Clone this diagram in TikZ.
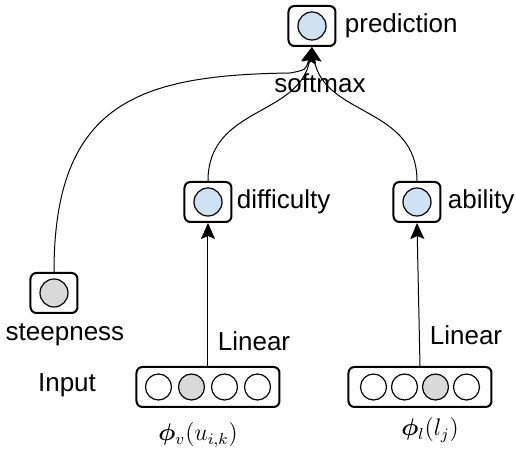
\documentclass[tikz,border=0pt]{standalone}
\usepackage{fontspec}
\setmainfont{Liberation Sans}
\usepackage{bm}
\usetikzlibrary{arrows.meta,positioning}
\definecolor{unitblue}{HTML}{CFE2F3}
\definecolor{unitgray}{HTML}{D9D9D9}
\tikzset{
	ubox/.style={
		draw,line width=1pt,rounded corners=3pt, %one unit
		minimum width=23.5pt,minimum height=20pt,inner sep=0pt},
	ibox/.style={draw,line width=1pt,rounded corners=3pt,minimum width=71.5pt,minimum height=20pt,inner sep=0pt},
	neur/.style={draw,circle,line width=0.6pt,minimum size=14pt,inner sep=0pt,fill=unitblue},
	lbl/.style={font=\fontsize{13}{15}\selectfont,inner sep=1pt},
	conn/.style={line width=0.5pt,-{Stealth[length=8pt,width=7pt,inset=1.5pt]}}
}
\newcommand{\embv}{$\bm{\phi}_v(u_{i,k})$}
\newcommand{\embl}{$\bm{\phi}_l(l_j)$}

\begin{document}
\begin{tikzpicture}[x=0.5pt,y=0.5pt]
			\useasboundingbox (0,0) rectangle (516,450);
			\node[ubox] (pred) at (312,424) {};
			\node[neur] at (pred) {};
			\node[lbl,right=3pt of pred] (predl) {prediction};
			\node[lbl] (soft) at (320,367) {softmax};
			\node[ubox] (diff) at (208,248) {};
			\node[neur] at (diff) {};
			\node[lbl,right=1pt of diff] (diffl) {difficulty};
			\node[ubox] (abil) at (417,248) {};
			\node[neur] at (abil) {};
			\node[lbl,right=2pt of abil] (abill) {ability};
			\node[ubox] (steep) at (54,157) {};
			\node[neur,fill=unitgray] at (steep) {};
			\node[lbl] (steepl) at (65,115) {steepness};
			\node[lbl] (inl) at (67,65) {Input};
			\node[ibox] (in1) at (208,63) {};
			\foreach \i/\c in {1/white,2/unitgray,3/white,4/white}
				\node[neur,minimum size=13pt,fill=\c] at ({125.5+33*\i},63) {};
			\node[ibox] (in2) at (420,63) {};
			\foreach \i/\c in {1/white,2/white,3/unitgray,4/white}
				\node[neur,minimum size=13pt,fill=\c] at ({342.5+31*\i},63) {};
			\node[font=\fontsize{12}{14}\selectfont] (emb1) at (198,15) {\embv};
			\node[font=\fontsize{12}{14}\selectfont] (emb2) at (430,20) {\embl};
			\node[lbl] (lin1) at (254,109) {Linear};
			\node[lbl] (lin2) at (466,115) {Linear};
			% connectors
			\draw[conn] (in1.north) -- (diff.south);
			\draw[conn] (in2.north) -- (abil.south);
			\draw[conn] (diff.north) .. controls +(0,75) and +(-12,-70) .. (pred.south);
			\draw[conn] (abil.north) .. controls +(0,75) and +(12,-70) .. (pred.south);
			\draw[conn] (steep.north) .. controls +(0,170) and (140,375) .. (290,377) .. controls (306,380) .. (pred.south);
\end{tikzpicture}
\end{document}
